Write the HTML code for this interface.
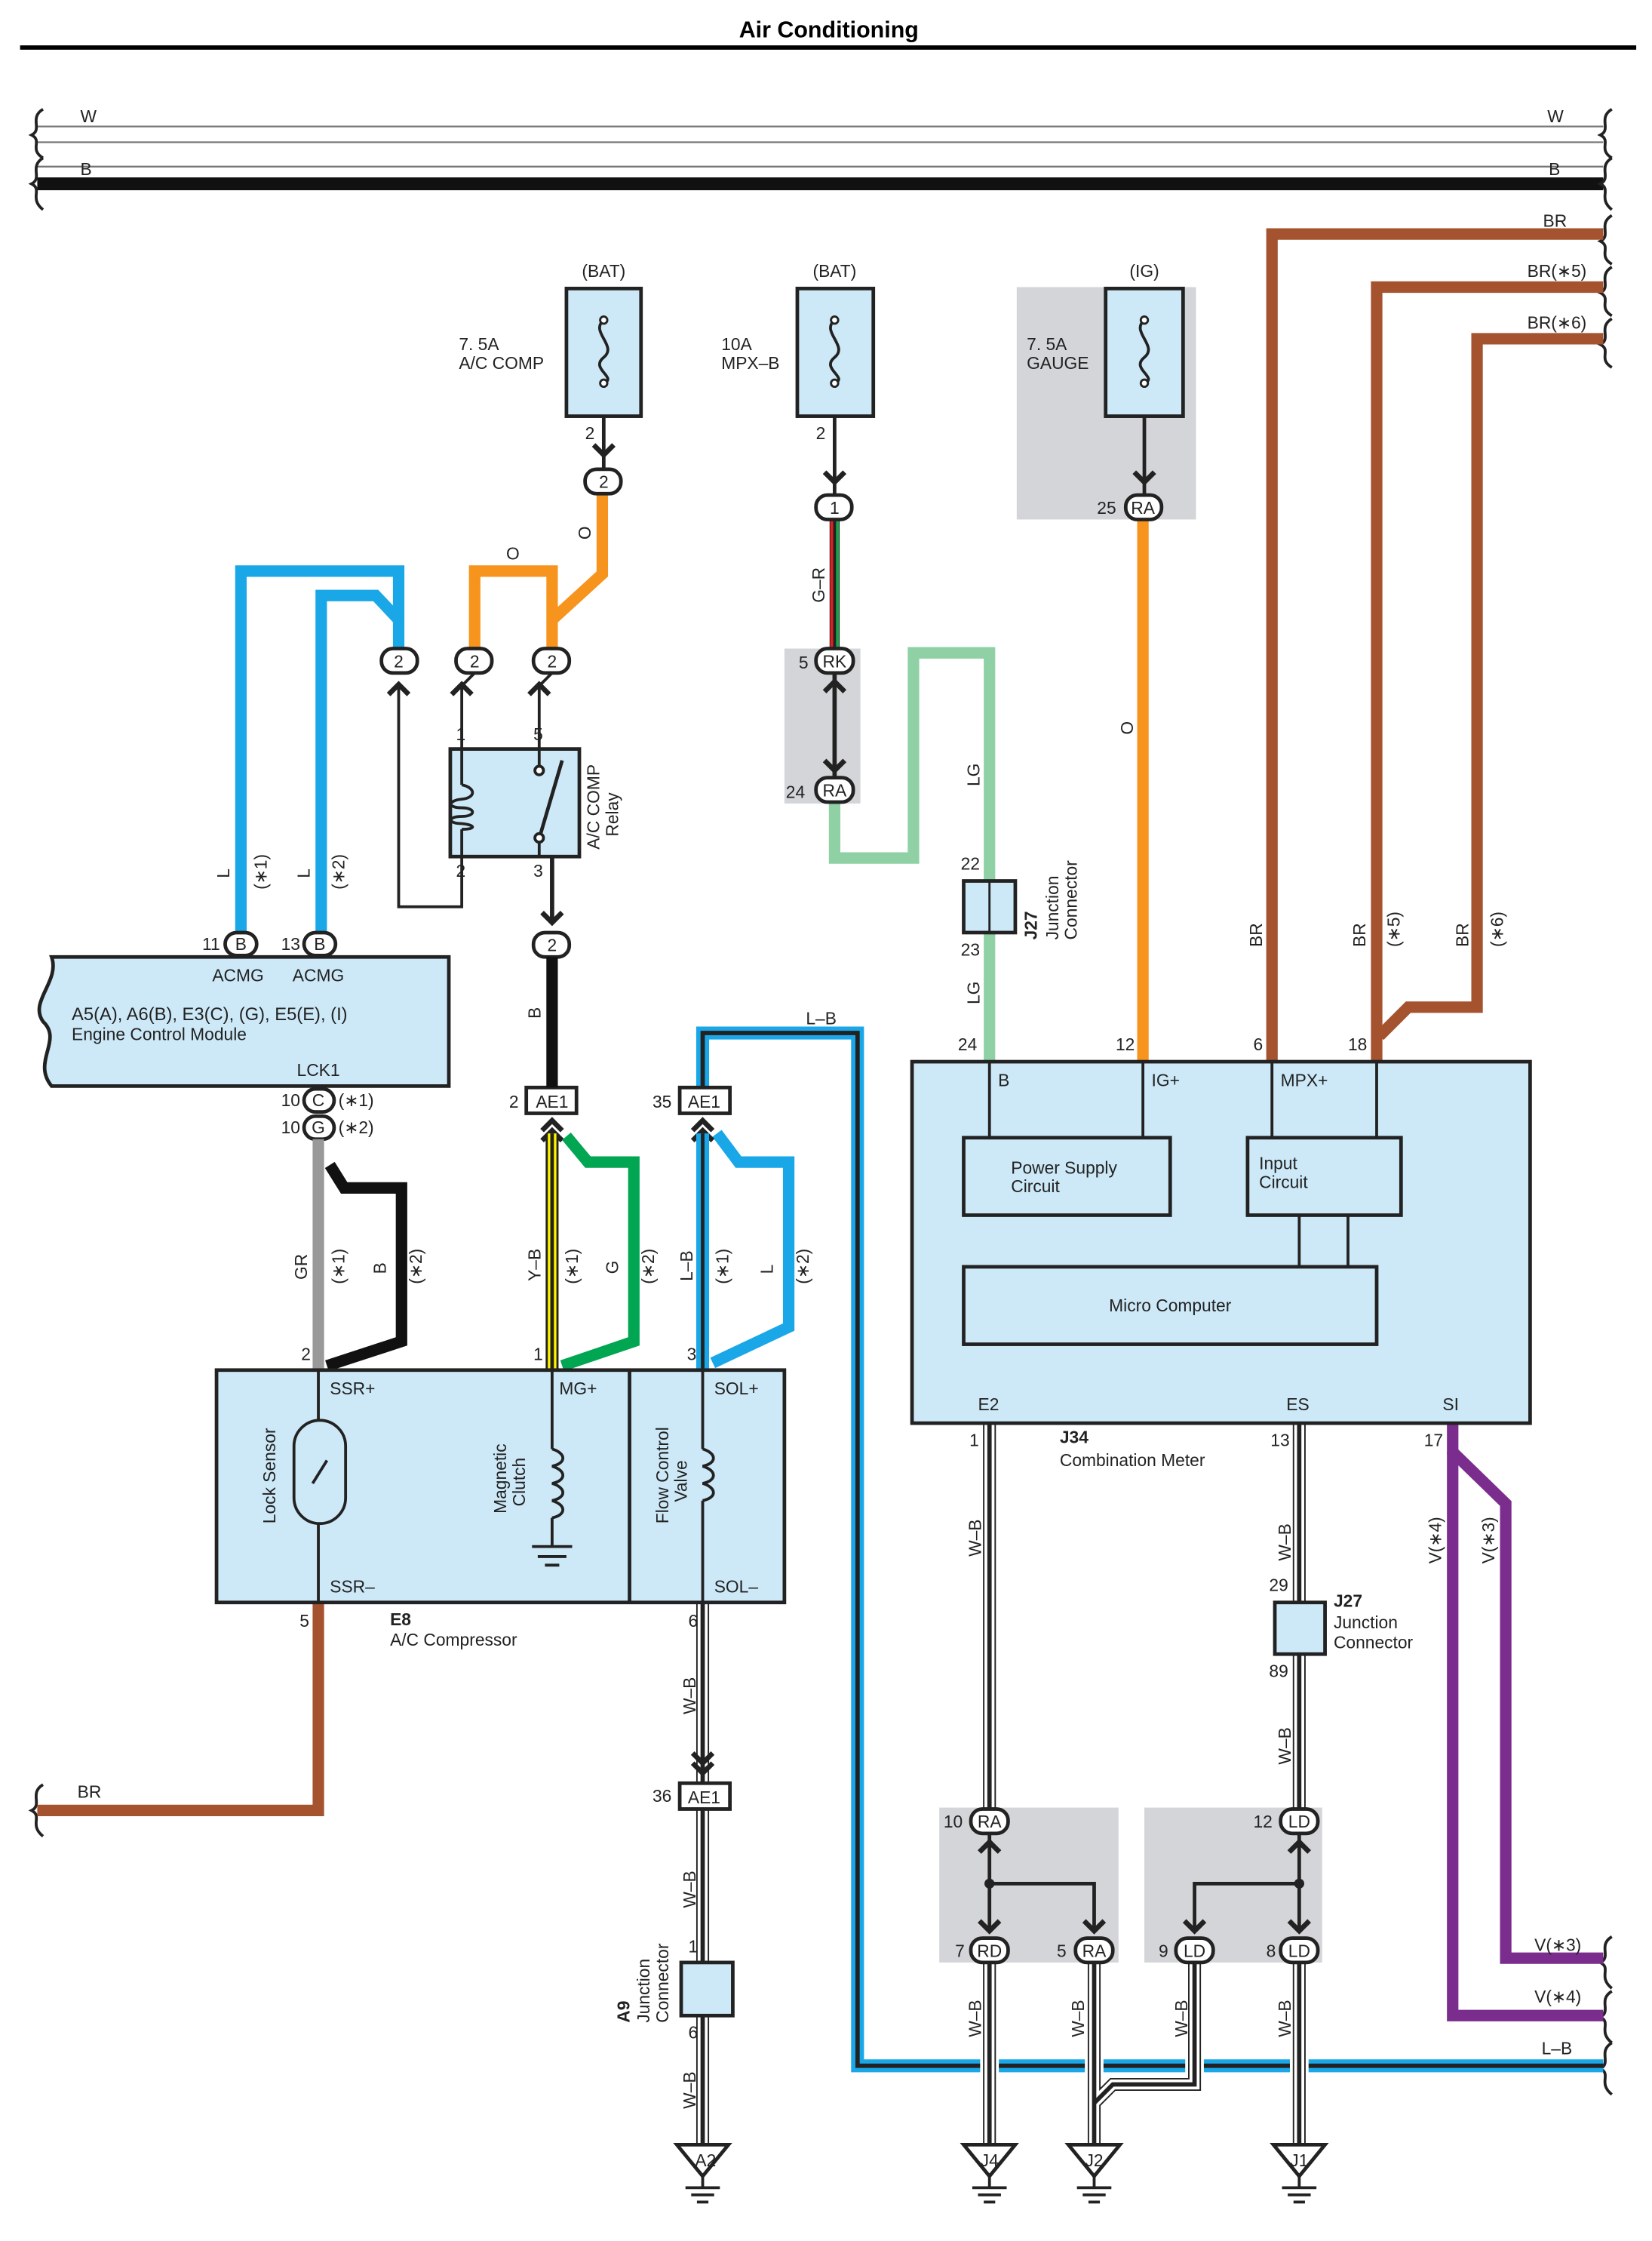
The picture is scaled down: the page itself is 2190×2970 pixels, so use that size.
<!DOCTYPE html>
<html><head><meta charset="utf-8"><style>
html,body{margin:0;padding:0;background:#fff}
svg{display:block}
text{font-family:"Liberation Sans",sans-serif;font-size:12px;fill:#222}
</style></head><body>
<svg width="2190" height="2970" viewBox="0 0 1152 1562" xmlns="http://www.w3.org/2000/svg">
<defs>
<g id="gnd"><path d="M-18,0 L18,0 L0,22 Z" fill="#fff" stroke="#222" stroke-width="2.5"/><line x1="0" y1="22" x2="0" y2="30" stroke="#222" stroke-width="2"/><line x1="-12" y1="30" x2="12" y2="30" stroke="#222" stroke-width="2"/><line x1="-8" y1="35" x2="8" y2="35" stroke="#222" stroke-width="2"/><line x1="-4" y1="40" x2="4" y2="40" stroke="#222" stroke-width="2"/></g>
<g id="fuse"><path d="M0,-22 C-10,-14 10,-4 0,4 C-10,12 10,18 0,22" fill="none" stroke="#222" stroke-width="2"/><circle cx="0" cy="-22" r="2.5" fill="#fff" stroke="#222" stroke-width="1.5"/><circle cx="0" cy="22" r="2.5" fill="#fff" stroke="#222" stroke-width="1.5"/></g>
<path id="up" d="M-7,6 L0,-1 L7,6" fill="none" stroke="#222" stroke-width="3.5"/>
<path id="dn" d="M-7,-6 L0,1 L7,-6" fill="none" stroke="#222" stroke-width="3.5"/>
</defs>
<text x="578" y="26" text-anchor="middle" style="font-size:16px;font-weight:bold;fill:#000">Air Conditioning</text>
<line x1="14" y1="33" x2="1141" y2="33" stroke="#000" stroke-width="3"/>
<line x1="26" y1="88" x2="1118" y2="88" stroke="#777" stroke-width="1.2"/>
<line x1="26" y1="99" x2="1118" y2="99" stroke="#777" stroke-width="1.2"/>
<line x1="26" y1="116" x2="1118" y2="116" stroke="#777" stroke-width="1.2"/>
<line x1="26" y1="128" x2="1118" y2="128" stroke="#111" stroke-width="9"/>
<text x="56" y="85">W</text><text x="1079" y="85">W</text>
<text x="56" y="122">B</text><text x="1080" y="122">B</text>
<g fill="none" stroke="#222" stroke-width="2">
<path d="M30,76 C20,82 30,90 22,94 C30,98 20,104 30,110"/><path d="M30,110 C20,116 30,124 22,128 C30,132 20,138 30,146"/>
<path d="M1124,76 C1114,82 1124,90 1116,94 C1124,98 1114,104 1124,110"/><path d="M1124,110 C1114,116 1124,124 1116,128 C1124,132 1114,138 1124,146"/>
<path d="M1124,150 C1114,156 1124,164 1116,168 C1124,172 1114,178 1124,184"/>
<path d="M1124,186 C1114,192 1124,200 1116,204 C1124,208 1114,214 1124,220"/>
<path d="M1124,222 C1114,228 1124,236 1116,240 C1124,244 1114,250 1124,256"/>
<path d="M1124,1350 C1114,1356 1124,1364 1116,1368 C1124,1372 1114,1378 1124,1386"/>
<path d="M1124,1388 C1114,1394 1124,1402 1116,1406 C1124,1410 1114,1416 1124,1424"/>
<path d="M1124,1424 C1114,1430 1124,1438 1116,1442 C1124,1446 1114,1452 1124,1460"/>
<path d="M30,1244 C20,1250 30,1258 22,1262 C30,1266 20,1272 30,1280"/>
</g>
<rect x="709" y="200" width="125" height="162" fill="#d3d5d8"/>
<rect x="547" y="452" width="53" height="108" fill="#d3d5d8"/>
<rect x="655" y="1260" width="125" height="108" fill="#d3d5d8"/>
<rect x="798" y="1260" width="124" height="108" fill="#d3d5d8"/>

<g fill="none" stroke="#a5532f" stroke-width="8">
<path d="M1118,163 L887,163 L887,740"/>
<path d="M1118,200 L960,200 L960,740"/>
<path d="M1118,236 L1030,236 L1030,702 L982,702 L962,722"/>
<path d="M222,1117 L222,1262 L26,1262"/>
</g>
<text x="1076" y="158">BR</text><text x="1065" y="193">BR(∗5)</text><text x="1065" y="229">BR(∗6)</text>
<text x="54" y="1253">BR</text>
<text transform="translate(880,660) rotate(-90)">BR</text>
<text transform="translate(952,660) rotate(-90)">BR</text><text transform="translate(976,660) rotate(-90)">(∗5)</text>
<text transform="translate(1024,660) rotate(-90)">BR</text><text transform="translate(1048,660) rotate(-90)">(∗6)</text>

<g fill="none" stroke="#f7941d" stroke-width="8">
<path d="M331,452 L331,398 L385,398 L385,452"/>
<path d="M385,432 L420,400 L420,345"/>
<path d="M797,362 L797,740"/>
</g>
<text x="353" y="390">O</text><text transform="translate(412,376) rotate(-90)">O</text>
<text transform="translate(790,512) rotate(-90)">O</text>

<g fill="none" stroke="#1aa7e8" stroke-width="8">
<path d="M168,650 L168,398 L278,398 L278,452"/>
<path d="M224,650 L224,415 L262,415 L278,432"/>
<path d="M500,790 L515,810 L550,810 L550,925 L497,950"/>
</g>
<text transform="translate(160,612) rotate(-90)">L</text><text transform="translate(186,620) rotate(-90)">(∗1)</text>
<text transform="translate(216,612) rotate(-90)">L</text><text transform="translate(240,620) rotate(-90)">(∗2)</text>

<g fill="#cde9f8" stroke="#222" stroke-width="2.5">
<rect x="395" y="201" width="52" height="89"/><rect x="556" y="201" width="53" height="89"/><rect x="771" y="201" width="54" height="89"/>
</g>
<use href="#fuse" x="421" y="245"/><use href="#fuse" x="582" y="245"/><use href="#fuse" x="798" y="245"/>
<text x="421" y="193" text-anchor="middle">(BAT)</text><text x="582" y="193" text-anchor="middle">(BAT)</text><text x="798" y="193" text-anchor="middle">(IG)</text>
<text x="320" y="244">7. 5A</text><text x="320" y="257">A/C COMP</text>
<text x="503" y="244">10A</text><text x="503" y="257">MPX–B</text>
<text x="716" y="244">7. 5A</text><text x="716" y="257">GAUGE</text>
<g stroke="#222" stroke-width="2.5"><line x1="421" y1="290" x2="421" y2="328"/><line x1="582" y1="290" x2="582" y2="345"/><line x1="798" y1="290" x2="798" y2="345"/></g>
<text x="408" y="306">2</text><text x="569" y="306">2</text>
<use href="#dn" x="421" y="316"/><use href="#dn" x="582" y="335"/><use href="#dn" x="798" y="335"/>

<line x1="582" y1="362" x2="582" y2="452" stroke="#222" stroke-width="7"/>
<line x1="580" y1="362" x2="580" y2="452" stroke="#e02020" stroke-width="2"/>
<line x1="584" y1="362" x2="584" y2="452" stroke="#1aa34a" stroke-width="2"/>
<text transform="translate(575,420) rotate(-90)">G–R</text>
<line x1="582" y1="470" x2="582" y2="542" stroke="#222" stroke-width="3"/>
<use href="#up" x="582" y="476"/><use href="#dn" x="582" y="536"/>

<path d="M582,560 L582,598 L637,598 L637,455 L690,455 L690,613 M690,650 L690,740" fill="none" stroke="#8fd0a4" stroke-width="8"/>
<text transform="translate(683,548) rotate(-90)">LG</text>
<text transform="translate(683,700) rotate(-90)">LG</text>
<rect x="672" y="614" width="36" height="36" fill="#cde9f8" stroke="#222" stroke-width="2.5"/>
<line x1="690" y1="614" x2="690" y2="650" stroke="#222" stroke-width="1.5"/>
<text x="670" y="606">22</text><text x="670" y="666">23</text><text x="668" y="732">24</text>
<text transform="translate(723,655) rotate(-90)" style="font-weight:bold">J27</text>
<text transform="translate(738,655) rotate(-90)">Junction</text><text transform="translate(751,655) rotate(-90)">Connector</text>

<!-- L-B long wire -->
<path d="M490,758 L490,720 L598,720 L598,1440 L1118,1440" fill="none" stroke="#1aa7e8" stroke-width="9"/>
<path d="M490,758 L490,720 L598,720 L598,1440 L1118,1440" fill="none" stroke="#222" stroke-width="3"/>
<text x="562" y="714">L–B</text><text x="1075" y="1432">L–B</text>

<!-- W-B wires -->
<g fill="none" stroke-linejoin="miter">
<g stroke="#fff" stroke-width="13">
<path d="M690,1368 L690,1495 M763,1368 L763,1495 M833,1368 L833,1453 L776,1453 L763,1466 M906,1368 L906,1495"/>
</g>
<g stroke="#222" stroke-width="9">
<path d="M490,1117 L490,1243 M490,1261 L490,1368 M490,1405 L490,1495 M690,992 L690,1261 M690,1368 L690,1495 M763,1368 L763,1495 M833,1368 L833,1453 L776,1453 L763,1466 M906,992 L906,1117 M906,1153 L906,1261 M906,1368 L906,1495"/>
</g>
<g stroke="#fff" stroke-width="7">
<path d="M490,1117 L490,1243 M490,1261 L490,1368 M490,1405 L490,1495 M690,992 L690,1261 M690,1368 L690,1495 M763,1368 L763,1495 M833,1368 L833,1453 L776,1453 L763,1466 M906,992 L906,1117 M906,1153 L906,1261 M906,1368 L906,1495"/>
</g>
<g stroke="#222" stroke-width="3">
<path d="M490,1117 L490,1243 M490,1261 L490,1368 M490,1405 L490,1495 M690,992 L690,1261 M690,1368 L690,1495 M763,1368 L763,1495 M833,1368 L833,1453 L776,1453 L763,1466 M906,992 L906,1117 M906,1153 L906,1261 M906,1368 L906,1495"/>
</g>
</g>

<g fill="#fff" stroke="#222" stroke-width="2.5">
<rect x="408" y="327" width="25" height="17" rx="8"/>
<rect x="569" y="345" width="25" height="17" rx="8"/>
<rect x="785" y="345" width="25" height="17" rx="8"/>
<rect x="266" y="452" width="25" height="17" rx="8"/><rect x="318" y="452" width="25" height="17" rx="8"/><rect x="372" y="452" width="25" height="17" rx="8"/>
<rect x="569" y="452" width="26" height="17" rx="8"/><rect x="569" y="542" width="26" height="17" rx="8"/>
<rect x="372" y="650" width="25" height="17" rx="8"/>
<rect x="157" y="650" width="22" height="16" rx="8"/><rect x="212" y="650" width="22" height="16" rx="8"/>
<rect x="212" y="759" width="21" height="16" rx="8"/><rect x="212" y="778" width="21" height="16" rx="8"/>
<rect x="677" y="1261" width="26" height="17" rx="8"/><rect x="677" y="1351" width="26" height="17" rx="8"/><rect x="750" y="1351" width="26" height="17" rx="8"/>
<rect x="893" y="1261" width="26" height="17" rx="8"/><rect x="893" y="1351" width="26" height="17" rx="8"/><rect x="820" y="1351" width="26" height="17" rx="8"/>
<rect x="367" y="758" width="35" height="18"/><rect x="474" y="758" width="35" height="18"/><rect x="474" y="1243" width="35" height="18"/>
</g>
<g text-anchor="middle">
<text x="421" y="340">2</text><text x="582" y="358">1</text><text x="797" y="358">RA</text>
<text x="278" y="465">2</text><text x="331" y="465">2</text><text x="385" y="465">2</text>
<text x="582" y="465">RK</text><text x="582" y="555">RA</text><text x="385" y="663">2</text>
<text x="168" y="662">B</text><text x="223" y="662">B</text><text x="222" y="771">C</text><text x="222" y="790">G</text>
<text x="690" y="1274">RA</text><text x="690" y="1364">RD</text><text x="763" y="1364">RA</text>
<text x="906" y="1274">LD</text><text x="906" y="1364">LD</text><text x="833" y="1364">LD</text>
<text x="385" y="772">AE1</text><text x="491" y="772">AE1</text><text x="491" y="1257">AE1</text>
</g>
<text x="765" y="358">25</text><text x="557" y="466">5</text><text x="548" y="556">24</text>
<text x="141" y="662">11</text><text x="196" y="662">13</text>
<text x="196" y="771">10</text><text x="196" y="790">10</text><text x="236" y="771">(∗1)</text><text x="236" y="790">(∗2)</text>
<text x="355" y="772">2</text><text x="455" y="772">35</text><text x="455" y="1256">36</text>
<text x="658" y="1274">10</text><text x="666" y="1364">7</text><text x="737" y="1364">5</text>
<text x="874" y="1274">12</text><text x="883" y="1364">8</text><text x="808" y="1364">9</text>

<!-- relay -->
<use href="#up" x="278" y="478"/><use href="#up" x="322" y="478"/><use href="#up" x="376" y="478"/>
<g stroke="#222" stroke-width="2" fill="none">
<path d="M278,478 L278,632 L322,632 L322,597"/>
<line x1="322" y1="478" x2="322" y2="522"/><line x1="376" y1="478" x2="376" y2="522"/>
<path d="M331,469 L322,478 M385,469 L376,478"/>
</g>
<rect x="314" y="522" width="90" height="75" fill="#cde9f8" stroke="#222" stroke-width="2.5"/>
<g stroke="#222" stroke-width="2" fill="none">
<path d="M322,522 L322,547 M322,578 L322,597 M376,522 L376,534 M376,587 L376,597"/>
<circle cx="376" cy="537" r="3" fill="#fff"/><circle cx="376" cy="584" r="3" fill="#fff"/>
<path d="M377,581 L392,530" stroke-width="2.5"/>
<path d="M322,547 C332,549 332,556 322,557 C312,558 312,563 322,563 C332,563 332,569 322,569 C312,569 312,574 322,574 C332,575 332,578 322,578"/>
</g>
<text x="318" y="516">1</text><text x="372" y="516">5</text><text x="318" y="611">2</text><text x="372" y="611">3</text>
<text transform="translate(418,592) rotate(-90)">A/C COMP</text><text transform="translate(431,583) rotate(-90)">Relay</text>
<line x1="385" y1="597" x2="385" y2="644" stroke="#222" stroke-width="3"/><use href="#dn" x="385" y="642"/>

<line x1="385" y1="667" x2="385" y2="758" stroke="#111" stroke-width="8"/>
<text transform="translate(377,710) rotate(-90)">B</text>

<path d="M36,667 L313,667 L313,757 L36,757 C22,740 44,725 30,712 C20,698 42,684 36,667 Z" fill="#cde9f8" stroke="#222" stroke-width="2.5"/>
<text x="148" y="684">ACMG</text><text x="204" y="684">ACMG</text>
<text x="50" y="711" style="font-size:12.5px">A5(A), A6(B), E3(C), (G), E5(E), (I)</text>
<text x="50" y="725">Engine Control Module</text>
<text x="207" y="750">LCK1</text>

<line x1="222" y1="794" x2="222" y2="955" stroke="#999" stroke-width="8"/>
<path d="M230,812 L240,828 L280,828 L280,935 L228,952" fill="none" stroke="#111" stroke-width="8"/>
<text transform="translate(214,892) rotate(-90)">GR</text><text transform="translate(240,895) rotate(-90)">(∗1)</text>
<text transform="translate(269,888) rotate(-90)">B</text><text transform="translate(294,895) rotate(-90)">(∗2)</text>

<use href="#up" x="385" y="782"/><use href="#up" x="385" y="789"/>
<line x1="385" y1="790" x2="385" y2="955" stroke="#222" stroke-width="9"/>
<line x1="385" y1="790" x2="385" y2="955" stroke="#fff200" stroke-width="6"/>
<line x1="385" y1="790" x2="385" y2="955" stroke="#222" stroke-width="2.5"/>
<path d="M395,792 L410,810 L442,810 L442,935 L392,952" fill="none" stroke="#00a651" stroke-width="8"/>
<text transform="translate(377,893) rotate(-90)">Y–B</text><text transform="translate(403,895) rotate(-90)">(∗1)</text>
<text transform="translate(431,888) rotate(-90)">G</text><text transform="translate(456,895) rotate(-90)">(∗2)</text>

<use href="#up" x="490" y="782"/><use href="#up" x="490" y="789"/>
<line x1="490" y1="790" x2="490" y2="955" stroke="#1aa7e8" stroke-width="9"/>
<line x1="490" y1="790" x2="490" y2="955" stroke="#222" stroke-width="2.5"/>
<text transform="translate(483,893) rotate(-90)">L–B</text><text transform="translate(508,895) rotate(-90)">(∗1)</text>
<text transform="translate(539,888) rotate(-90)">L</text><text transform="translate(564,895) rotate(-90)">(∗2)</text>

<rect x="151" y="955" width="396" height="162" fill="#cde9f8" stroke="#222" stroke-width="2.5"/>
<line x1="439" y1="955" x2="439" y2="1117" stroke="#222" stroke-width="2.5"/>
<g stroke="#222" stroke-width="2" fill="none">
<line x1="222" y1="955" x2="222" y2="990"/><line x1="222" y1="1062" x2="222" y2="1117"/>
<rect x="205" y="990" width="36" height="72" rx="18"/><line x1="218" y1="1034" x2="228" y2="1018"/>
<line x1="385" y1="955" x2="385" y2="1010"/>
<path d="M385,1010 C395,1013 395,1020 385,1022 C395,1025 395,1032 385,1034 C395,1037 395,1044 385,1046 C395,1049 395,1056 385,1058"/>
<line x1="385" y1="1058" x2="385" y2="1078"/><line x1="371" y1="1078" x2="399" y2="1078"/><line x1="375" y1="1085" x2="395" y2="1085"/><line x1="380" y1="1091" x2="390" y2="1091"/>
<line x1="490" y1="955" x2="490" y2="1010"/>
<path d="M490,1010 C500,1013 500,1020 490,1022 C500,1025 500,1032 490,1034 C500,1037 500,1044 490,1046"/>
<line x1="490" y1="1046" x2="490" y2="1117"/>
</g>
<text x="210" y="948">2</text><text x="372" y="948">1</text><text x="479" y="948">3</text>
<text x="230" y="972">SSR+</text><text x="390" y="972">MG+</text><text x="498" y="972">SOL+</text>
<text x="230" y="1110">SSR–</text><text x="498" y="1110">SOL–</text>
<text transform="translate(192,1062) rotate(-90)">Lock Sensor</text>
<text transform="translate(353,1055) rotate(-90)">Magnetic</text><text transform="translate(366,1050) rotate(-90)">Clutch</text>
<text transform="translate(466,1062) rotate(-90)">Flow Control</text><text transform="translate(479,1047) rotate(-90)">Valve</text>
<text x="209" y="1134">5</text><text x="480" y="1134">6</text>
<text x="272" y="1133" style="font-weight:bold">E8</text><text x="272" y="1147">A/C Compressor</text>

<use href="#dn" x="490" y="1228"/><use href="#dn" x="490" y="1235"/>
<text transform="translate(485,1195) rotate(-90)">W–B</text>
<text transform="translate(485,1330) rotate(-90)">W–B</text>
<text transform="translate(485,1470) rotate(-90)">W–B</text>
<text transform="translate(684,1085) rotate(-90)">W–B</text>
<text transform="translate(684,1420) rotate(-90)">W–B</text>
<text transform="translate(756,1420) rotate(-90)">W–B</text>
<text transform="translate(828,1420) rotate(-90)">W–B</text>
<text transform="translate(900,1420) rotate(-90)">W–B</text>
<text transform="translate(900,1088) rotate(-90)">W–B</text>
<text transform="translate(900,1230) rotate(-90)">W–B</text>
<rect x="475" y="1368" width="36" height="37" fill="#cde9f8" stroke="#222" stroke-width="2.5"/>
<text x="480" y="1361">1</text><text x="480" y="1421">6</text>
<text transform="translate(439,1410) rotate(-90)" style="font-weight:bold">A9</text>
<text transform="translate(453,1410) rotate(-90)">Junction</text><text transform="translate(466,1410) rotate(-90)">Connector</text>
<rect x="889" y="1117" width="35" height="36" fill="#cde9f8" stroke="#222" stroke-width="2.5"/>
<text x="885" y="1109">29</text><text x="885" y="1169">89</text>
<text x="930" y="1120" style="font-weight:bold">J27</text><text x="930" y="1135">Junction</text><text x="930" y="1149">Connector</text>
<text x="676" y="1008">1</text><text x="886" y="1008">13</text><text x="993" y="1008">17</text>
<g stroke="#222" stroke-width="2.5" fill="none">
<path d="M690,1278 L690,1345 M690,1313 L763,1313 L763,1345"/>
<path d="M906,1278 L906,1345 M906,1313 L833,1313 L833,1345"/>
</g>
<circle cx="690" cy="1313" r="3.5" fill="#222"/><circle cx="906" cy="1313" r="3.5" fill="#222"/>
<use href="#up" x="690" y="1285"/><use href="#dn" x="690" y="1345"/><use href="#dn" x="763" y="1345"/>
<use href="#up" x="906" y="1285"/><use href="#dn" x="906" y="1345"/><use href="#dn" x="833" y="1345"/>
<use href="#gnd" x="490" y="1495"/><use href="#gnd" x="690" y="1495"/><use href="#gnd" x="763" y="1495"/><use href="#gnd" x="906" y="1495"/>
<g text-anchor="middle"><text x="492" y="1510">A2</text><text x="690" y="1510">J4</text><text x="763" y="1510">J2</text><text x="906" y="1510">J1</text></g>

<g fill="none" stroke="#7b2d8e" stroke-width="8">
<path d="M1013,992 L1013,1012 L1050,1048 L1050,1365 L1118,1365"/>
<path d="M1013,1012 L1013,1405 L1118,1405"/>
</g>
<text x="1070" y="1360">V(∗3)</text><text x="1070" y="1396">V(∗4)</text>
<text transform="translate(1005,1090) rotate(-90)">V(∗4)</text><text transform="translate(1042,1090) rotate(-90)">V(∗3)</text>

<rect x="636" y="740" width="431" height="252" fill="#cde9f8" stroke="#222" stroke-width="2.5"/>
<g stroke="#222" stroke-width="2">
<line x1="690" y1="740" x2="690" y2="793"/><line x1="797" y1="740" x2="797" y2="793"/>
<line x1="887" y1="740" x2="887" y2="793"/><line x1="960" y1="740" x2="960" y2="793"/>
<line x1="906" y1="847" x2="906" y2="883"/><line x1="940" y1="847" x2="940" y2="883"/>
</g>
<g fill="#cde9f8" stroke="#222" stroke-width="2.5">
<rect x="672" y="793" width="144" height="54"/><rect x="870" y="793" width="107" height="54"/><rect x="672" y="883" width="288" height="54"/>
</g>
<text x="696" y="757">B</text><text x="803" y="757">IG+</text><text x="893" y="757">MPX+</text>
<text x="778" y="732">12</text><text x="874" y="732">6</text><text x="940" y="732">18</text>
<text x="705" y="818">Power Supply</text><text x="705" y="831">Circuit</text>
<text x="878" y="815">Input</text><text x="878" y="828">Circuit</text>
<text x="816" y="914" text-anchor="middle">Micro Computer</text>
<text x="682" y="983">E2</text><text x="897" y="983">ES</text><text x="1006" y="983">SI</text>
<text x="739" y="1006" style="font-weight:bold">J34</text><text x="739" y="1022">Combination Meter</text>
</svg>
</body></html>
